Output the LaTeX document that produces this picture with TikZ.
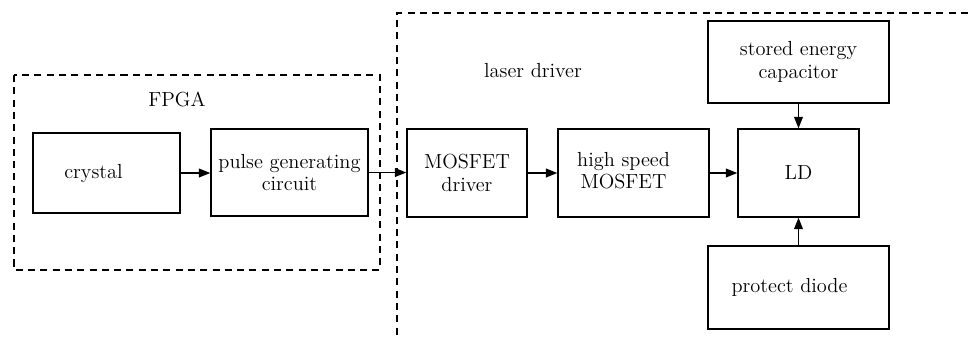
\documentclass[tikz,border=0pt]{standalone}
\usetikzlibrary{arrows.meta}
\begin{document}
\begin{tikzpicture}[x=0.02cm,y=-0.02cm,
  box/.style={draw, line width=0.8pt, rectangle, inner sep=0pt, align=center,
    font=\fontsize{11.6}{13}\selectfont},
  sbox/.style={draw, line width=0.8pt, rectangle, inner sep=0pt,
    font=\fontsize{11.6}{13}\selectfont},
  lbl/.style={font=\fontsize{11.6}{13}\selectfont, inner sep=0pt},
  grp/.style={draw, line width=0.9pt, dash pattern=on 4pt off 3pt},
  arr/.style={-{Triangle[length=6.5pt,width=5pt]}, line width=0.8pt}]
\useasboundingbox (0,0) rectangle (968,336);
% groups
\draw[grp] (14,75) rectangle (380,270);
\coordinate (ltr) at (968,13);
\coordinate (ltl) at (397,13);
\coordinate (lbl) at (397,336);
\draw[grp] (ltr) -- (ltl) -- (lbl);
\node[lbl] (fpga) at (177,99) {FPGA};
\node[lbl] (ldrv) at (533,71) {laser driver};
% blocks
\node[sbox, minimum width=2.94cm, minimum height=1.6cm] (crys) at (106.5,173) {crystal\hspace*{0.52cm}};
\node[box, minimum width=3.14cm, minimum height=1.74cm] (pulse) at (289.5,172.5) {pulse generating\\circuit};
\node[box, minimum width=2.4cm, minimum height=1.76cm] (mosd) at (467,173) {MOSFET\\driver};
\node[sbox, minimum width=3.02cm, minimum height=1.76cm] (hsm) at (633.5,173) {\begin{tabular}{@{}c@{}}high speed\\MOSFET\end{tabular}\hspace*{0.4cm}};
\node[box, minimum width=2.42cm, minimum height=1.76cm] (ld) at (798.5,173) {LD};
\node[box, minimum width=3.62cm, minimum height=1.64cm] (cap) at (798.5,62) {stored energy\\capacitor};
\node[sbox, minimum width=3.62cm, minimum height=1.66cm] (diode) at (798.5,287.5) {protect diode\hspace*{0.36cm}};
% arrows
\draw[arr] (crys.east) -- (crys.east -| pulse.west);
\draw[arr] (pulse.east) -- (pulse.east -| mosd.west);
\draw[arr] (mosd.east) -- (mosd.east -| hsm.west);
\draw[arr] (hsm.east) -- (hsm.east -| ld.west);
\draw[arr] (cap.south) -- (ld.north);
\draw[arr] (diode.north) -- (ld.south);
\end{tikzpicture}
\end{document}
